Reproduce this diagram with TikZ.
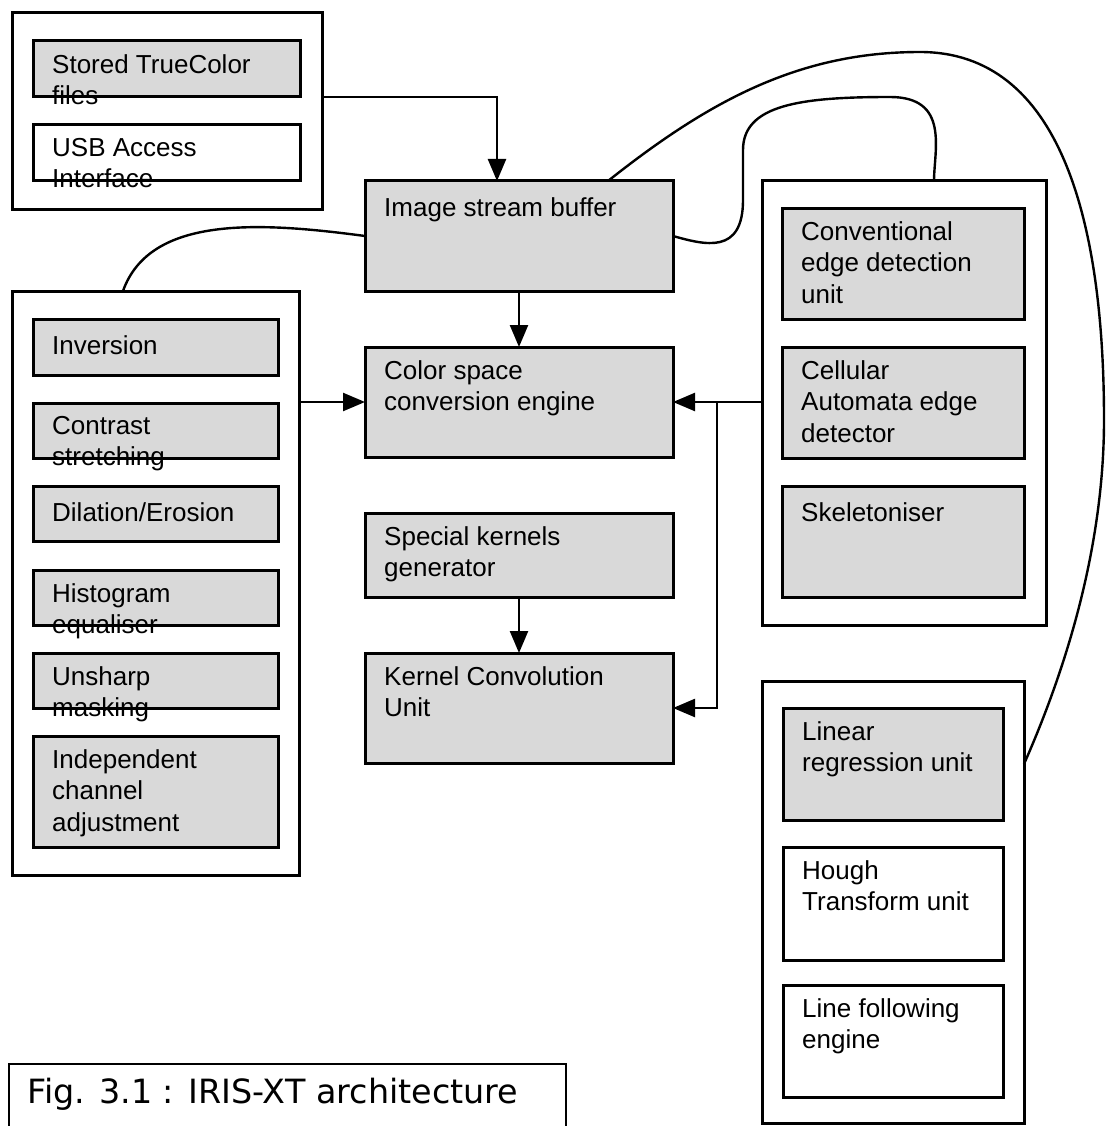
\documentclass[tikz,border=0pt]{standalone}
\usepackage{fontspec}
\setmainfont{Liberation Sans}
\newfontfamily\capfont{DejaVu Sans}
\usetikzlibrary{arrows.meta}
\definecolor{blkgray}{RGB}{217,217,217}

\begin{document}
\begin{tikzpicture}[x=1pt, y=-1pt,
  blk/.style={draw, line width=3pt, fill=blkgray, anchor=north west,
              inner sep=0pt, outer sep=0pt},
  wblk/.style={blk, fill=white},
  lbl/.style={anchor=north west, xshift=19pt, yshift=-13pt, inner sep=0pt,
              align=left, font=\fontsize{26}{31.5}\selectfont,
              execute at begin node=\strut},
  caplbl/.style={anchor=base west, xshift=19pt, yshift=-40pt, inner sep=0pt,
              font=\capfont\fontsize{33.4}{40}\selectfont},
  link/.style={line width=2.4pt},
  arr/.style={link, -{Triangle[length=22pt, width=18pt]}}]
\useasboundingbox (0,0) rectangle (1106,1126);

% sources
\node[wblk, minimum width=310pt, minimum height=196pt] (tgrp) at (12,13) {};
\node[blk, minimum width=267pt, minimum height=56pt,
      label={[lbl]north west:{Stored TrueColor\\files}}] (store) at (33,41) {};
\node[wblk, minimum width=267pt, minimum height=56pt,
      label={[lbl]north west:{USB Access\\Interface}}] (usb) at (33,125) {};

% centre column
\node[blk, minimum width=308pt, minimum height=110pt,
      label={[lbl]north west:{Image stream buffer}}] (isb) at (365,181) {};
\node[blk, minimum width=308pt, minimum height=110pt,
      label={[lbl]north west:{Color space\\conversion engine}}] (csc) at (365,347) {};
\node[blk, minimum width=308pt, minimum height=84pt,
      label={[lbl]north west:{Special kernels\\generator}}] (skg) at (365,513) {};
\node[blk, minimum width=308pt, minimum height=110pt,
      label={[lbl]north west:{Kernel Convolution\\Unit}}] (kcu) at (365,653) {};

% point operations
\node[wblk, minimum width=287pt, minimum height=584pt] (lgrp) at (12,291) {};
\foreach \nm/\yy/\hh/\txt in {inv/319/56/{Inversion},
    con/403/55/{Contrast\\stretching}, dil/486/55/{Dilation/Erosion},
    his/570/55/{Histogram\\equaliser}, uns/653/55/{Unsharp\\masking},
    ind/736/111/{Independent\\channel\\adjustment}}
  \node[blk, minimum width=245pt, minimum height=\hh pt,
        label={[lbl]north west:{\txt}}] (\nm) at (33,\yy) {};

% edge units
\node[wblk, minimum width=284pt, minimum height=444pt] (rgrpa) at (762,181) {};
\foreach \nm/\yy/\txt in {conv/208/{Conventional\\edge detection\\unit},
    cell/347/{Cellular\\Automata edge\\detector}, skel/486/{Skeletoniser}}
  \node[blk, minimum width=242pt, minimum height=111pt,
        label={[lbl]north west:{\txt}}] (\nm) at (782,\yy) {};

% line units
\node[wblk, minimum width=262pt, minimum height=442pt] (rgrpb) at (762,681) {};
\node[blk, minimum width=220pt, minimum height=112pt,
      label={[lbl]north west:{Linear\\regression unit}}] (lin) at (783,708) {};
\node[wblk, minimum width=220pt, minimum height=113pt,
      label={[lbl]north west:{Hough\\Transform unit}}] (hough) at (783,847) {};
\node[wblk, minimum width=220pt, minimum height=112pt,
      label={[lbl]north west:{Line following\\engine}}] (lfe) at (783,985) {};

% caption
\node[draw, line width=1.8pt, anchor=north west, inner sep=0pt,
      minimum width=557pt, minimum height=80pt,
      label={[caplbl]north west:{Fig. 3.1 : IRIS-XT architecture}}] (cap) at (8,1063) {};

% arrows
\draw[arr] (tgrp.east |- store.south) -| ([xshift=-22pt]isb.north);
\draw[arr] (isb) -- (csc);
\draw[arr] (skg) -- (kcu);
\draw[arr] (lgrp.east |- csc.west) -- (csc.west);
\draw[arr] (rgrpa.west |- csc.east) -- (csc.east);
\coordinate (jn) at ([xshift=44pt]csc.east);
\draw[arr] (jn) |- (kcu.east);

% curved links
\draw[link] (isb.west) .. controls (260,222) and (150,215) .. ([xshift=-32.5pt]lgrp.north);
\draw[link] ([xshift=89pt]isb.north) .. controls (710,100) and (800,52) .. (920,52)
  .. controls (1060,52) and (1104,220) .. (1104,420)
  .. controls (1104,540) and (1070,660) .. (rgrpb.east |- lin.center);
\draw[link] (isb.east) .. controls (705,245) and (743,255) .. (743,200) -- (743,150)
  .. controls (743,105) and (800,97) .. (890,97)
  .. controls (950,97) and (934,150) .. ([xshift=30pt]rgrpa.north);
\end{tikzpicture}
\end{document}
